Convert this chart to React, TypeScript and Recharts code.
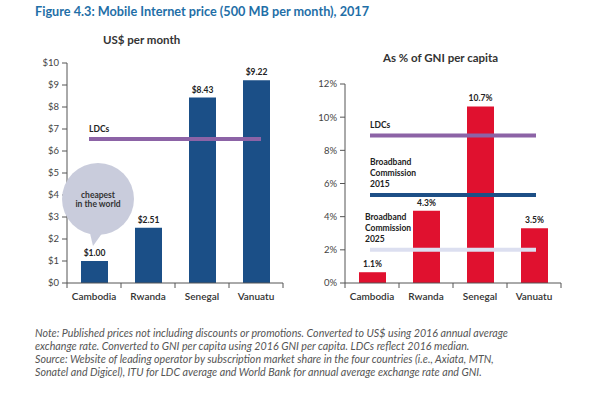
import { ComposedChart, Bar, XAxis, YAxis, LabelList, ReferenceLine, ReferenceDot } from 'recharts';

const countries = ['Cambodia', 'Rwanda', 'Senegal', 'Vanuatu'];
const usdPrice = [1.0, 2.51, 8.43, 9.22];
const usdLabels = ['$1.00', '$2.51', '$8.43', '$9.22'];
const gniShare = [0.65, 4.35, 10.65, 3.3];
const gniLabels = ['1.1%', '4.3%', '10.7%', '3.5%'];
const ldcUsd = 6.55;
const ldcGni = 8.9;
const broadband2015 = 5.3;
const broadband2025 = 2.0;
const usdTicks = [0, 1, 2, 3, 4, 5, 6, 7, 8, 9, 10];
const gniTicks = [0, 2, 4, 6, 8, 10, 12];

const usdData = countries.map((c, i) => ({ country: c, value: usdPrice[i], label: usdLabels[i] }));
const gniData = countries.map((c, i) => ({ country: c, value: gniShare[i], label: gniLabels[i] }));

const FONT = 'Lato, "Open Sans", sans-serif';
const AXIS = '#555';
const HALF_BAND = 27;

// category label plus tick marks at the band boundaries
const CatTick = (props: any) => {
  const { x, y, payload, index, visibleTicksCount } = props;
  const axisY = y - 9;
  return (
    <g>
      <line x1={x - HALF_BAND} x2={x - HALF_BAND} y1={axisY} y2={axisY + 5} stroke={AXIS} />
      {index === visibleTicksCount - 1 && (
        <line x1={x + HALF_BAND} x2={x + HALF_BAND} y1={axisY} y2={axisY + 5} stroke={AXIS} />
      )}
      <text x={x} y={y} dy={8} textAnchor='middle' fontSize={10} fontWeight={600} fill='#333' fontFamily={FONT}>
        {payload.value}
      </text>
    </g>
  );
};

// reference segment stretched a little past the outer bar centres
const Segment = (ext: number, color: string) => (p: any) => (
  <line x1={p.x1 - ext} x2={p.x2 + ext} y1={p.y1} y2={p.y2} stroke={color} strokeWidth={4} />
);

const lineLabel = (lines: string[], dx: number, lastDy: number) => (props: any) => {
  const { viewBox } = props;
  const x = viewBox.x + dx;
  const y0 = viewBox.y - lastDy - (lines.length - 1) * 11;
  return (
    <text x={x} y={y0} fontSize={8.5} fontWeight='bold' fill='#222' fontFamily={FONT}>
      {lines.map((l, i) => (
        <tspan key={i} x={x} y={y0 + i * 11}>{l}</tspan>
      ))}
    </text>
  );
};

const Bubble = (props: any) => {
  const { cx, cy } = props;
  const bx = cx + 4;
  return (
    <g>
      <circle cx={bx} cy={cy} r={36} fill='#c9ccdc' />
      <path d={`M${bx - 9},${cy + 30} L${cx - 1},${cy + 47} L${bx + 5},${cy + 33} Z`} fill='#c9ccdc' />
      <text x={bx} y={cy - 1} textAnchor='middle' fontSize={8.5} fontWeight='bold' fill='#333' fontFamily={FONT}>cheapest</text>
      <text x={bx} y={cy + 8} textAnchor='middle' fontSize={8.5} fontWeight='bold' fill='#333' fontFamily={FONT}>in the world</text>
    </g>
  );
};

const tickStyle = { fontSize: 9.5, fill: '#444', fontFamily: FONT };

const App = () => {
  return (
    <div style={{ position: 'absolute', left: 0, top: 0, width: 604, height: 395, background: '#fff', fontFamily: FONT }}>
      <div style={{ position: 'absolute', left: 35, top: 3, fontSize: 12.7, fontWeight: 700, color: '#1f6fa7', whiteSpace: 'nowrap' }}>
        Figure 4.3: Mobile Internet price (500 MB per month), 2017
      </div>
      <div style={{ position: 'absolute', left: 103, top: 33, fontSize: 11.5, fontWeight: 700, color: '#333', whiteSpace: 'nowrap' }}>
        US$ per month
      </div>
      <div style={{ position: 'absolute', left: 383, top: 51, fontSize: 11.5, fontWeight: 700, color: '#333', whiteSpace: 'nowrap' }}>
        As % of GNI per capita
      </div>

      <div style={{ position: 'absolute', left: 0, top: 0 }}>
        <ComposedChart width={300} height={320} data={usdData} margin={{ top: 63, right: 17, bottom: 17, left: 0 }}>
          <XAxis dataKey='country' interval={0} tickLine={false} axisLine={{ stroke: AXIS }} tick={CatTick} tickSize={5} tickMargin={4} height={20} />
          <YAxis domain={[0, 10]} ticks={usdTicks} interval={0} tickFormatter={(v) => `$${v}`} width={67} tick={tickStyle} tickSize={5} tickLine={{ stroke: AXIS }} axisLine={{ stroke: AXIS }} tickMargin={3} />
          <Bar dataKey='value' fill='#1b4f87' barSize={27} isAnimationActive={false}>
            <LabelList dataKey='label' position='top' offset={5} fontSize={8.5} fontWeight='bold' fill='#222' fontFamily={FONT} />
          </Bar>
          <ReferenceLine segment={[{ x: 'Cambodia', y: ldcUsd }, { x: 'Vanuatu', y: ldcUsd }]} shape={Segment(5, '#8c63a6')} label={lineLabel(['LDCs'], -5, 7)} />
          <ReferenceDot x='Cambodia' y={3.82} shape={Bubble} />
        </ComposedChart>
      </div>

      <div style={{ position: 'absolute', left: 300, top: 0 }}>
        <ComposedChart width={304} height={320} data={gniData} margin={{ top: 84, right: 43, bottom: 17, left: 0 }}>
          <XAxis dataKey='country' interval={0} tickLine={false} axisLine={{ stroke: AXIS }} tick={CatTick} tickSize={5} tickMargin={4} height={20} />
          <YAxis domain={[0, 12]} ticks={gniTicks} interval={0} tickFormatter={(v) => `${v}%`} width={45} tick={tickStyle} tickSize={5} tickLine={{ stroke: AXIS }} axisLine={{ stroke: AXIS }} tickMargin={3} />
          <Bar dataKey='value' fill='#e0112f' barSize={27} isAnimationActive={false}>
            <LabelList dataKey='label' position='top' offset={5} fontSize={8.5} fontWeight='bold' fill='#222' fontFamily={FONT} />
          </Bar>
          <ReferenceLine segment={[{ x: 'Cambodia', y: ldcGni }, { x: 'Vanuatu', y: ldcGni }]} shape={Segment(2, '#8c63a6')} label={lineLabel(['LDCs'], -2, 7)} />
          <ReferenceLine segment={[{ x: 'Cambodia', y: broadband2015 }, { x: 'Vanuatu', y: broadband2015 }]} shape={Segment(2, '#1d4f86')} label={lineLabel(['Broadband', 'Commission', '2015'], -2, 8)} />
          <ReferenceLine segment={[{ x: 'Cambodia', y: broadband2025 }, { x: 'Vanuatu', y: broadband2025 }]} shape={Segment(2, '#dcdff0')} label={lineLabel(['Broadband', 'Commission', '2025'], -7, 8)} />
        </ComposedChart>
      </div>

      <div style={{ position: 'absolute', left: 35, top: 326, fontSize: 10.7, fontStyle: 'italic', color: '#555', lineHeight: '13px', whiteSpace: 'nowrap' }}>
        <div>Note: Published prices not including discounts or promotions. Converted to US$ using 2016 annual average</div>
        <div>exchange rate. Converted to GNI per capita using 2016 GNI per capita. LDCs reflect 2016 median.</div>
        <div>Source: Website of leading operator by subscription market share in the four countries (i.e., Axiata, MTN,</div>
        <div>Sonatel and Digicel), ITU for LDC average and World Bank for annual average exchange rate and GNI.</div>
      </div>
    </div>
  );
};

export default App;
